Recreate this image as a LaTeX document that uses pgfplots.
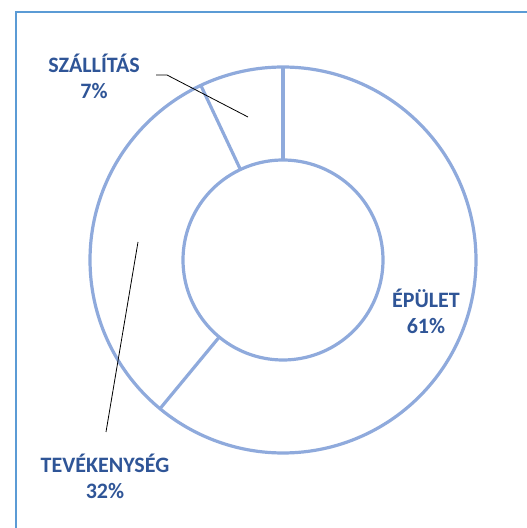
\documentclass[border=0pt]{standalone}
\usepackage{pgfplots}
\pgfplotsset{compat=1.18}
\usepackage{fontspec}
\setmainfont{Carlito}
\definecolor{ring}{HTML}{8FAADC}
\definecolor{lab}{HTML}{2F5597}
\definecolor{frame}{HTML}{5B9BD5}
% slice values (percent), clockwise from top
\def\vA{61}% ÉPÜLET
\def\vB{32}% TEVÉKENYSÉG
\def\vC{7}%  SZÁLLÍTÁS
\pgfmathsetmacro{\aZero}{90}
\pgfmathsetmacro{\aOne}{90-\vA*3.6}
\pgfmathsetmacro{\aTwo}{90-(\vA+\vB)*3.6}
\def\cx{283}\def\cy{268}\def\Rout{193}\def\Rin{100}
\begin{document}
\begin{tikzpicture}
\begin{axis}[
  scale only axis, width=527pt, height=528pt,
  xmin=0, xmax=527, ymin=0, ymax=528,
  hide axis, clip=true,
]
% frame
\addplot[color=frame, line width=2pt] coordinates {(16,0) (16,515.5) (527,515.5)};
% rings
\addplot[ring, line width=3.2pt, domain=0:360, samples=241] ({\cx+\Rout*cos(x)}, {\cy+\Rout*sin(x)});
\addplot[ring, line width=3.2pt, domain=0:360, samples=181] ({\cx+\Rin*cos(x)}, {\cy+\Rin*sin(x)});
% separators
\addplot[ring, line width=3.2pt, domain=\Rin:\Rout, samples=2] ({\cx+x*cos(\aZero)}, {\cy+x*sin(\aZero)});
\addplot[ring, line width=3.2pt, domain=\Rin:\Rout, samples=2] ({\cx+x*cos(\aOne)}, {\cy+x*sin(\aOne)});
\addplot[ring, line width=3.2pt, domain=\Rin:\Rout, samples=2] ({\cx+x*cos(\aTwo)}, {\cy+x*sin(\aTwo)});
% leader lines
\addplot[black, line width=0.8pt] coordinates {(156,453) (167,453) (248,411)};
\addplot[black, line width=0.8pt] coordinates {(138,286) (106,96)};
% labels
\node[align=center, text=lab, font=\fontsize{22}{26}\selectfont\bfseries] at (axis cs:94,452) {SZÁLLÍTÁS\\7\%};
\node[align=center, text=lab, font=\fontsize{22}{26}\selectfont\bfseries] at (axis cs:105,52) {TEVÉKENYSÉG\\32\%};
\node[align=center, text=lab, font=\fontsize{22}{26}\selectfont\bfseries] at (axis cs:426,217) {ÉPÜLET\\61\%};
\end{axis}
\path (current axis.south west) rectangle (current axis.north east);
\end{tikzpicture}
\end{document}
